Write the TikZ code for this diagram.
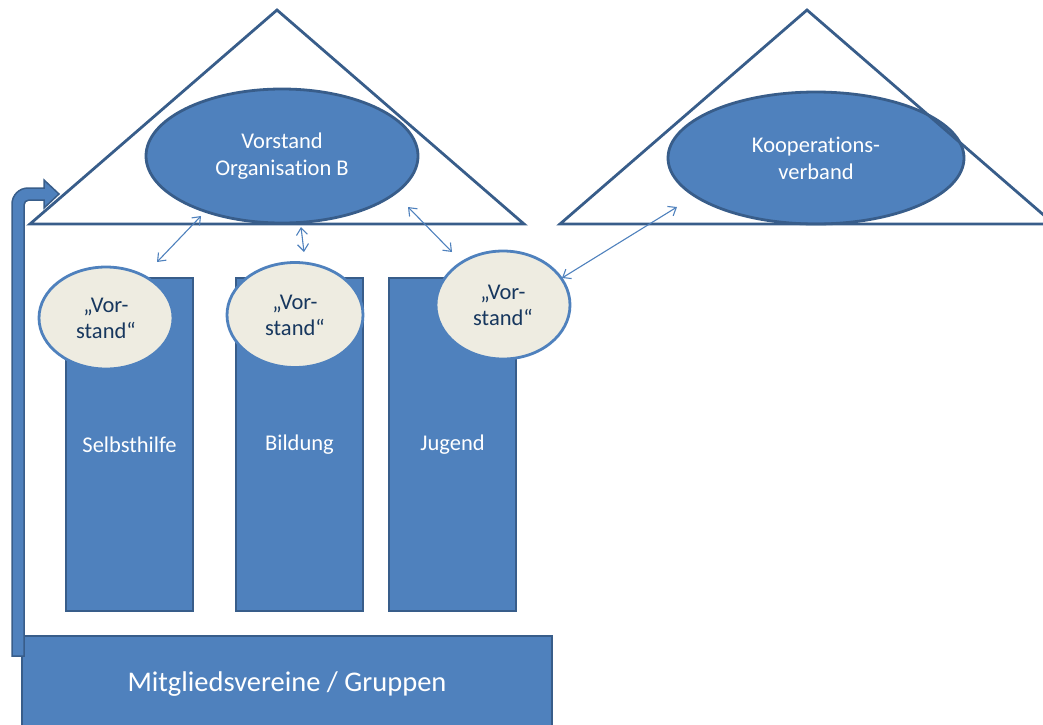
\documentclass[tikz,border=0pt]{standalone}
\usepackage{fontspec}
\setmainfont{Carlito}[Ligatures={NoCommon}]
\usetikzlibrary{shapes.geometric, arrows.meta}
\definecolor{boxblue}{HTML}{4F81BD}
\definecolor{boxline}{HTML}{385D8A}
\definecolor{ovalfill}{HTML}{EEECE1}
\definecolor{navy}{HTML}{17375E}
\tikzset{
  pillar/.style={draw=boxline, line width=2.5pt, fill=boxblue, minimum width=127pt,
    minimum height=333pt, inner sep=0pt, text=white, font=\fontsize{22.5}{27}\selectfont},
  board/.style={ellipse, draw=boxline, line width=2.8pt, fill=boxblue, inner sep=0pt,
    text=white, align=center, font=\fontsize{22.5}{27}\selectfont},
  subboard/.style={ellipse, draw=boxblue, line width=2.8pt, fill=ovalfill, inner sep=0pt,
    minimum width=134pt, minimum height=102pt, text=navy, align=center,
    font=\fontsize{22.5}{26}\selectfont},
  roof/.style={draw=boxline, line width=2.8pt, line join=miter},
  link/.style={draw=boxblue, line width=1.1pt,
    {Straight Barb[length=7pt,width=11pt]}-{Straight Barb[length=7pt,width=11pt]}}
}
\begin{document}
\begin{tikzpicture}[x=1pt, y=-1pt]
	\clip (0,0) rectangle (1043,724);

	% boards
	\node [board, minimum width=272pt, minimum height=134pt] (orgB) at (282,156) {Vorstand\\Organisation B};
	\node [board, minimum width=296pt, minimum height=132pt] (koop) at (816,158) {Kooperations-\\verband};

	% roofs
	\draw [roof] (30,224) -- (277,10) -- (524,224) -- cycle;
	\draw [roof] (560,224) -- (807,10) -- (1054,224) -- cycle;

	% pillars
	\node [pillar] (self) at (129.5,444.5) {Selbsthilfe};
	\node [pillar] (bild) at (299.5,444.5) {Bildung};
	\node [pillar] (jug)  at (452.5,444.5) {Jugend};

	% base
	\node [pillar, minimum width=530pt, minimum height=96pt, font=\fontsize{28.5}{34}\selectfont]
		(mitglieder) at (287,684) {Mitgliedsvereine / Gruppen};

	% arrow from the base up to the roof
	\filldraw [fill=boxblue, draw=boxline, line width=1.5pt, line join=miter]
		(24,656) -- (12,656) [rounded corners=16pt] -- (12,188) [sharp corners] -- (44,188)
		-- (44,180) -- (59,194) -- (44,208) -- (44,200) [rounded corners=5pt] -- (24,200)
		[sharp corners] -- cycle;

	% boards of the pillars
	\node [subboard] (vs1) at (106,318) {„Vor-\\stand“};
	\node [subboard, minimum width=136pt, minimum height=105pt] (vs2) at (295,315) {„Vor-\\stand“};
	\node [subboard, minimum height=108pt] (vs3) at (503,305) {„Vor-\\stand“};

	\coordinate (A) at (157,262);
	\coordinate (B) at (201,216);
	\coordinate (C) at (301,227);
	\coordinate (D) at (304,252);
	\coordinate (E) at (408,207);
	\coordinate (F) at (452,252);
	\coordinate (G) at (562,278);
	\coordinate (H) at (677,207);

	\draw [link] (A) -- (B);
	\draw [link] (C) -- (D);
	\draw [link] (E) -- (F);
	\draw [link] (G) -- (H);
\end{tikzpicture}
\end{document}
